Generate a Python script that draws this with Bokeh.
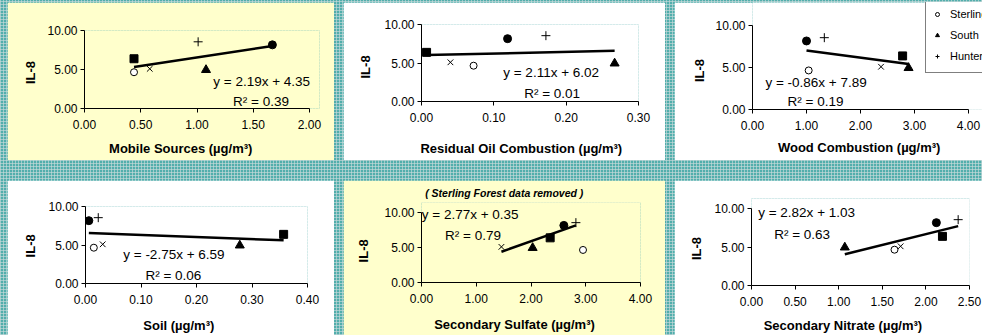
from bokeh.plotting import figure
from bokeh.layouts import row, column, Spacer
from bokeh.models import (Label, Title, FixedTicker, NumeralTickFormatter, Range1d,
                          Legend, LegendItem)
from bokeh.embed import file_html
from bokeh.resources import INLINE

FONT = "Liberation Sans"

# ---- data -------------------------------------------------------------
# site order: Sterling Forest (open circle), South Bronx (triangle),
# Hunter College (plus), then the three sites whose legend entries are cut off
legend_names = ["Sterling Forest", "South Bronx", "Hunter College"]
il8 = [4.65, 4.95, 8.55, 6.38, 5.09, 8.16]

source_labels = ["Mobile Sources (µg/m³)", "Residual Oil Combustion (µg/m³)",
                 "Wood Combustion (µg/m³)", "Soil (µg/m³)",
                 "Secondary Sulfate (µg/m³)", "Secondary Nitrate (µg/m³)"]
mobile = [0.44, 1.08, 1.01, 0.44, 0.58, 1.67]
resid_oil = [0.072, 0.267, 0.172, 0.007, 0.040, 0.119]
wood = [1.04, 2.89, 1.33, 2.78, 2.38, 1.00]
soil = [0.015, 0.278, 0.023, 0.357, 0.031, 0.006]
sulfate = [2.95, 2.03, 2.82, 2.35, 1.46, 2.60]
nitrate = [1.64, 1.07, 2.37, 2.19, 1.71, 2.12]
source_x = [mobile, resid_oil, wood, soil, sulfate, nitrate]

slopes = [2.19, 2.11, -0.86, -2.75, 2.77, 2.82]
intercepts = [4.35, 6.02, 7.89, 6.59, 0.35, 1.03]
r_squared = [0.39, 0.01, 0.19, 0.06, 0.79, 0.63]
fit_sites = [[0, 1, 2, 3, 4, 5], [0, 1, 2, 3, 4, 5], [0, 1, 2, 3, 4, 5],
             [0, 1, 2, 3, 4, 5], [1, 2, 3, 4, 5], [0, 1, 2, 3, 4, 5]]

x_ticks = [[0, 0.5, 1.0, 1.5, 2.0], [0, 0.1, 0.2, 0.3], [0, 1, 2, 3, 4],
           [0, 0.1, 0.2, 0.3, 0.4], [0, 1, 2, 3, 4], [0, 0.5, 1.0, 1.5, 2.0, 2.5]]
y_ticks = [0, 5, 10]
y_label = "IL-8"
note_text = "( Sterling Forest data removed )"

# ---- layout / style (not data) ---------------------------------------
YELLOW = "#FFFFCC"
panel_bg = [YELLOW, "white", "white", "white", YELLOW, "white"]
widths = [327, 322, 308, 327, 322, 308]
heights = [158, 158, 158, 155, 155, 155]
# left, right, top, bottom borders around the 0..max / 0..10 axis box
borders = [(77, 25, 28, 52), (78, 27, 22, 59), (78, 14, 23, 51),
           (78, 27, 26, 52), (75, 25, 32, 53), (77, 13, 28, 50)]
# extra frame room (px) to the right / top so texts and legend are not clipped
ext_right = [10, 0, 14, 0, 0, 0]
ext_top = [0, 0, 23, 0, 10, 10]
# x title: left offset from frame left, gap under tick labels
xtitle_offset = [24.6, -1.1, 25.4, 57.8, 12.7, 12.2]
xtitle_gap = [5, 12, 3, 7, 7, 5]
# y title: start offset up from frame bottom, standoff
ytitle_offset = [24.4, 23.0, 27.4, 26.1, 20.1, 25.4]
ytitle_standoff = [13, 17, 11, 15, 21, 16]
eq_pos = [(1.145, 3.49), (0.113, 3.8), (0.24, 3.16), (0.068, 3.73),
          (0.005, 9.77), (0.077, 9.48)]
r2_pos = [(1.32, 0.93), (0.142, 1.0), (0.65, 0.98), (0.108, 0.98),
          (0.43, 6.7), (0.26, 6.65)]

marker_styles = [
    dict(marker="circle", size=7, fill_color="white", line_color="black", line_width=1),
    dict(marker="triangle", size=9, fill_color="black", line_color="black"),
    dict(marker="cross", size=9, line_color="black", line_width=1),
    dict(marker="square", size=8, fill_color="black", line_color="black"),
    dict(marker="x", size=8, line_color="black", line_width=1),
    dict(marker="circle", size=8, fill_color="black", line_color="black"),
]


def make_panel(i):
    l, r, t, b = borders[i]
    w0 = widths[i] - l - r
    h0 = heights[i] - t - b
    xmax = x_ticks[i][-1]
    x_end = xmax * (w0 + ext_right[i]) / w0
    y_end = 10 * (h0 + ext_top[i]) / h0
    xs = source_x[i]
    p = figure(width=widths[i], height=heights[i], output_backend="svg",
               toolbar_location=None, tools="", frame_align=False,
               x_range=Range1d(0, x_end), y_range=Range1d(0, y_end),
               min_border_left=l, min_border_right=r - ext_right[i],
               min_border_top=t - ext_top[i], min_border_bottom=b,
               background_fill_color=panel_bg[i], border_fill_color=panel_bg[i],
               outline_line_color=None)
    # the plot title: only panel 5 carries a note, elsewhere it takes no room
    if i == 4:
        p.title.text = note_text
        p.title.align = "left"
        p.title.offset = 3.7
        p.title.standoff = 8
        p.title.vertical_align = "bottom"
        p.title.text_font = FONT
        p.title.text_font_size = "10.5px"
        p.title.text_font_style = "bold italic"
        p.title.text_color = "black"
    else:
        p.title.text = ""
        p.title.standoff = 0
        p.title.text_font_size = "1px"

    p.xgrid.visible = False
    p.ygrid.visible = False
    p.xaxis.ticker = FixedTicker(ticks=x_ticks[i])
    p.yaxis.ticker = FixedTicker(ticks=y_ticks)
    p.xaxis.bounds = (0, xmax)
    p.yaxis.bounds = (0, 10)
    for ax in (p.xaxis, p.yaxis):
        ax.formatter = NumeralTickFormatter(format="0.00")
        ax.axis_line_color = "black"
        ax.major_tick_line_color = "black"
        ax.minor_tick_line_color = None
        ax.major_tick_out = 4
        ax.major_tick_in = 0
        ax.major_label_text_font = FONT
        ax.major_label_text_font_size = "12px"
        ax.major_label_text_color = "black"
    p.xaxis.major_label_standoff = 7
    p.yaxis.major_label_standoff = 3
    # thin spacer label under the x tick labels
    p.xaxis.axis_label = " "
    p.xaxis.axis_label_text_font_size = "1px"
    p.xaxis.axis_label_standoff = xtitle_gap[i]

    p.add_layout(Title(text=source_labels[i], align="left", offset=xtitle_offset[i],
                       standoff=0, vertical_align="top", text_font=FONT,
                       text_font_size="13px", text_font_style="bold",
                       text_color="black"), "below")
    p.add_layout(Title(text=y_label, align="left", offset=ytitle_offset[i],
                       standoff=ytitle_standoff[i], vertical_align="bottom",
                       text_font=FONT, text_font_size="13px", text_font_style="bold",
                       text_color="black"), "left")

    renderers = []
    for s in range(len(il8)):
        rr = p.scatter([xs[s]], [il8[s]], **marker_styles[s])
        renderers.append(rr)

    inc = fit_sites[i]
    lo = min(xs[s] for s in inc)
    hi = max(xs[s] for s in inc)
    p.line([lo, hi], [slopes[i] * lo + intercepts[i], slopes[i] * hi + intercepts[i]],
           line_color="black", line_width=2.5)

    eq = f"y = {slopes[i]:.2f}x + {intercepts[i]:.2f}"
    p.add_layout(Label(x=eq_pos[i][0], y=eq_pos[i][1], text=eq,
                       text_font=FONT, text_font_size="13.5px", text_color="black",
                       text_align="left", text_baseline="middle"))
    p.add_layout(Label(x=r2_pos[i][0], y=r2_pos[i][1], text=f"R² = {r_squared[i]:.2f}",
                       text_font=FONT, text_font_size="13.5px", text_color="black",
                       text_align="left", text_baseline="middle"))
    return p, renderers


panels = []
for i in range(6):
    p, rends = make_panel(i)
    panels.append(p)
    if i == 2:
        items = [LegendItem(label=legend_names[k], renderers=[rends[k]]) for k in range(3)]
        lg = Legend(items=items, location=(173, 36), orientation="vertical",
                    label_text_font=FONT, label_text_font_size="11px",
                    label_text_color="black",
                    glyph_width=10, glyph_height=10, label_height=21,
                    spacing=0, padding=6, margin=0, label_standoff=8,
                    border_line_color="black", border_line_width=1,
                    background_fill_color="white", background_fill_alpha=1)
        p.add_layout(lg)

top = row(panels[0], panels[1], panels[2], spacing=9)
bottom = row(panels[3], panels[4], panels[5], spacing=9)
body = column(Spacer(height=2, width=975), top, Spacer(height=20, width=975), bottom)

pattern = ("repeating-linear-gradient(0deg, rgba(200,218,218,0.65) 0px, rgba(200,218,218,0.65) 1px, "
           "transparent 1px, transparent 3px), "
           "repeating-linear-gradient(90deg, rgba(200,218,218,0.65) 0px, rgba(200,218,218,0.65) 1px, "
           "transparent 1px, transparent 3px)")
outer = row(Spacer(width=7, height=335), body, width=982, height=335,
            styles={"background-color": "#52aeac", "background-image": pattern})

open("out.html", "w").write(file_html(outer, INLINE))
